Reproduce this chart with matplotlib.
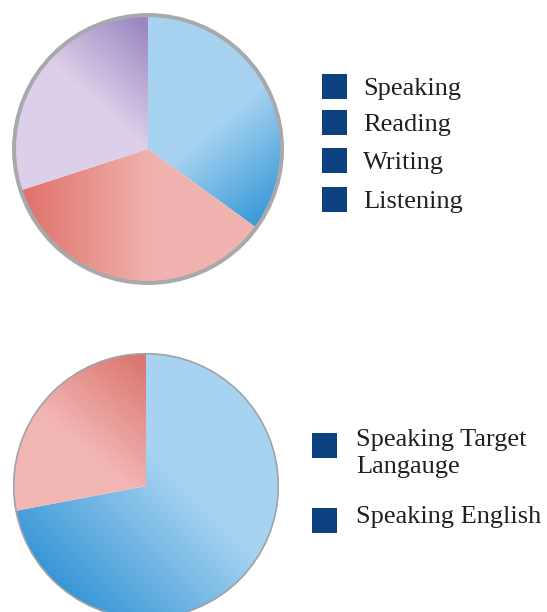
import numpy as np
import matplotlib.pyplot as plt
from matplotlib.colors import LinearSegmentedColormap
from matplotlib.patches import Circle, Rectangle

W, H = 547, 612

# top chart: share of class time per skill (legend has four names, the pie three slices)
skill_labels = ["Speaking", "Reading", "Writing", "Listening"]
skill_values = [35, 35, 30]

# bottom chart: language used when speaking
lang_labels = ["Speaking Target\nLangauge", "Speaking English"]
lang_values = [72, 28]

SQUARE = "#0B417F"
TEXT = "#231F20"


def fig_box(left, top, w, h):
    # pixel box (from top-left) -> figure fraction
    return [left / W, 1 - (top + h) / H, w / W, h / H]


def fill_gradient(ax, wedge, p0, p1, c0, c1):
    xs = np.linspace(-1.05, 1.05, 400)
    X, Y = np.meshgrid(xs, xs)
    d = np.array(p1) - np.array(p0)
    t = ((X - p0[0]) * d[0] + (Y - p0[1]) * d[1]) / (d @ d)
    t = np.clip(t, 0, 1)
    cmap = LinearSegmentedColormap.from_list("g", [c0, c1])
    im = ax.imshow(t, cmap=cmap, vmin=0, vmax=1, origin="lower", zorder=2,
                   extent=(-1.05, 1.05, -1.05, 1.05), interpolation="bilinear")
    im.set_clip_path(wedge)


def gradient_pie(ax, values, grads, r, edge_lw, edge_col):
    wedges, _ = ax.pie(values, startangle=90, counterclock=False, radius=r,
                       wedgeprops=dict(linewidth=0))
    for w, g in zip(wedges, grads):
        w.set_facecolor("none")
        fill_gradient(ax, w, *g)
    ax.add_patch(Circle((0, 0), r, fill=False, edgecolor=edge_col,
                        linewidth=edge_lw, zorder=5))
    ax.set_xlim(-1, 1)
    ax.set_ylim(-1, 1)
    ax.set_aspect("equal")
    ax.axis("off")


fig = plt.figure(figsize=(W / 100, H / 100), dpi=100)

# top pie
ax1 = fig.add_axes(fig_box(12, 13, 272, 272))
top_grads = [
    ((0.35, 0.05), (0.85, -0.55), "#A7D3F1", "#3597D7"),   # blue
    ((-0.95, 0.0), (0.05, 0.0), "#E07068", "#F0B3AF"),     # pink
    ((0.0, 0.9), (-0.45, 0.4), "#9B88C2", "#DCCFE9"),      # purple
]
gradient_pie(ax1, skill_values, top_grads, 0.985, 2.9, "#A7A9AC")

# bottom pie
ax2 = fig.add_axes(fig_box(13, 353, 266, 266))
bottom_grads = [
    ((0.3, 0.0), (-0.6, -0.9), "#A7D3F1", "#3293D5"),      # blue
    ((-0.05, 0.95), (-0.55, 0.35), "#DC7670", "#F2B6B4"),  # pink
]
gradient_pie(ax2, lang_values, bottom_grads, 0.995, 1.2, "#A0A2A5")

# legends drawn by hand: squares + serif labels
font = dict(family="Liberation Serif", size=19, color=TEXT)

top_rows = [86, 122, 160, 199]
for lab, yc in zip(skill_labels, top_rows):
    fig.add_artist(Rectangle((322 / W, 1 - (yc + 12.5) / H), 25 / W, 25 / H,
                             transform=fig.transFigure, color=SQUARE, lw=0))
    fig.text(363 / W, 1 - (yc + 9) / H, lab, va="baseline", ha="left", **font)

bottom_rows = [445.5, 520.5]
bottom_base = [446, 523]
for lab, yc, yb in zip(lang_labels, bottom_rows, bottom_base):
    fig.add_artist(Rectangle((312 / W, 1 - (yc + 12.5) / H), 25 / W, 25 / H,
                             transform=fig.transFigure, color=SQUARE, lw=0))
    lines = lab.split("\n")
    for i, ln in enumerate(lines):
        fig.text(356 / W, 1 - (yb + 27 * i) / H, ln, va="baseline", ha="left", **font)

fig.savefig("out.png", dpi=100, facecolor="white")
